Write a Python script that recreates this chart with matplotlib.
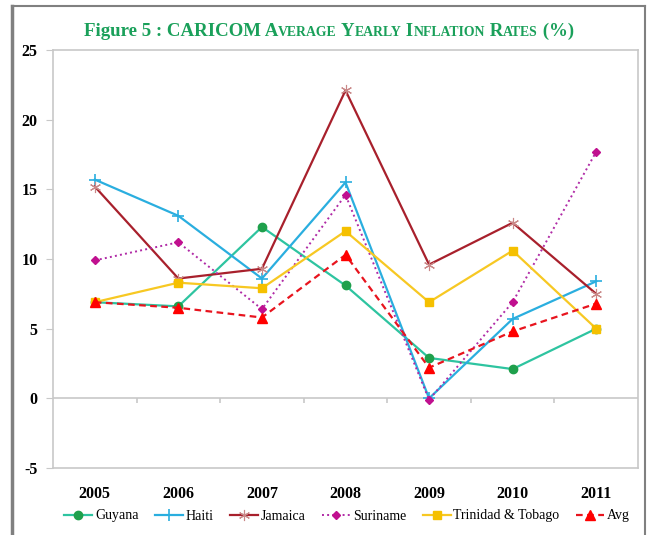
import numpy as np
import matplotlib
matplotlib.use('Agg')
import matplotlib.pyplot as plt
from matplotlib.lines import Line2D

plt.rcParams['font.family'] = ['Liberation Serif', 'DejaVu Serif']
plt.rcParams['axes.unicode_minus'] = False

years = ['2005', '2006', '2007', '2008', '2009', '2010', '2011']
guyana = [6.9, 6.6, 12.3, 8.1, 2.9, 2.1, 5.0]
haiti = [15.7, 13.1, 8.6, 15.5, 0.0, 5.7, 8.4]
jamaica = [15.2, 8.6, 9.3, 22.1, 9.6, 12.6, 7.5]
suriname = [9.9, 11.2, 6.4, 14.6, -0.1, 6.9, 17.7]
trinidad = [6.9, 8.3, 7.9, 12.0, 6.9, 10.6, 5.0]
avg = [6.9, 6.5, 5.8, 10.3, 2.2, 4.8, 6.8]
y_ticks = [-5, 0, 5, 10, 15, 20, 25]

x = np.arange(len(years))
grey = '#c8c8c8'

fig = plt.figure(figsize=(6.47, 5.35), dpi=100)
ax = fig.add_axes([53/647, 1-468/535, 585/647, 418/535])

ax.plot(x, guyana, color='#2ec4a0', lw=1.6, marker='o', ms=6,
        mfc='#1fa04c', mec='#1fa04c', label='Guyana')
ax.plot(x, haiti, color='#2aaedf', lw=1.6, marker='+', ms=8, mew=1.2, label='Haiti')
ax.plot(x, jamaica, color='#a8202c', lw=1.6, marker=(6, 2, 0), ms=8, mew=0.8,
        mec='#c98888', label='Jamaica')
ax.plot(x, suriname, color='#b02aa6', lw=1.4, ls=':', marker='D', ms=4.5,
        mfc='#c0108f', mec='#c0108f', label='Suriname')
ax.plot(x, trinidad, color='#f7c823', lw=1.6, marker='s', ms=6,
        mfc='#f5c000', mec='#f5c000', label='Trinidad & Tobago')
ax.plot(x, avg, color='#e8141e', lw=1.6, ls=(0, (3, 2)), marker='^', ms=6.5,
        mfc='#ff0000', mec='#ff0000', label='Avg')

ax.set_xlim(-0.5, 6.5)
ax.set_ylim(-5, 25)
ax.set_yticks(y_ticks)
ax.set_xticks(x)
ax.set_xticklabels(years, fontsize=11.5, fontweight='bold')
ax.tick_params(axis='x', length=0, pad=13)
ax.tick_params(axis='y', length=5, color=grey, labelsize=11.5, pad=6)
for lab in ax.get_yticklabels():
    lab.set_fontweight('bold')
for s in ax.spines.values():
    s.set_color(grey)
    s.set_linewidth(1.2)

# zero line with category ticks
ax.axhline(0, color=grey, lw=1.2, zorder=0)
ax.vlines(np.arange(0.5, 6.5, 1), -0.35, 0, color=grey, lw=1.2, zorder=0)

fig.legend(loc='center', bbox_to_anchor=(347/647, 1-516/535), ncol=6,
           frameon=False, fontsize=10, handlelength=2.0, columnspacing=1.2,
           handletextpad=0.2, borderaxespad=0)

# title in small caps
green = '#1aa05a'
parts = [('Figure 5 : CARICOM A', 13.6), ('VERAGE', 9.9), (' Y', 13.6),
         ('EARLY', 9.9), (' I', 13.6), ('NFLATION', 9.9), (' R', 13.6),
         ('ATES', 9.9), (' (%)', 13.6)]
r = fig.canvas.get_renderer()
texts = []
xpos = 0
for s, fs in parts:
    t = fig.text(xpos, 1-36/535, s, fontsize=fs, color=green, fontweight='bold',
                 va='baseline', ha='left')
    w = t.get_window_extent(r).width / fig.bbox.width
    texts.append((t, xpos))
    xpos += w
start = 329/647 - xpos/2
for t, px in texts:
    t.set_x(start + px)

# outer frame
fr = '#808080'
fig.add_artist(Line2D([12/647, 12/647], [0, 1-6/535], color=fr, lw=2.5))
fig.add_artist(Line2D([645/647, 645/647], [0, 1-6/535], color=fr, lw=1.5))
fig.add_artist(Line2D([12/647, 645/647], [1-6/535, 1-6/535], color=fr, lw=1.5))

fig.savefig('out.png', dpi=100)
